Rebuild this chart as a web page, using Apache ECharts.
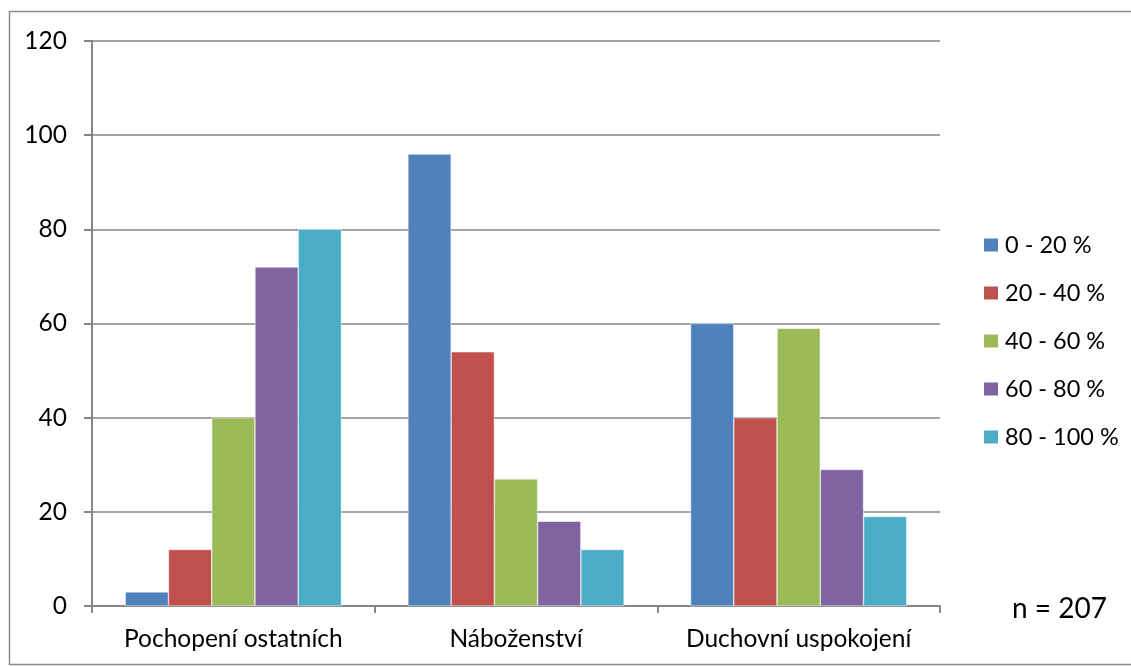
<!DOCTYPE html>
<html>
<head>
<meta charset="utf-8">
<script src="https://cdn.jsdelivr.net/npm/echarts@6/dist/echarts.min.js"></script>
<style>
  html, body { margin: 0; padding: 0; background: #fff; }
  #chart { width: 1131px; height: 666px; }
</style>
</head>
<body>
<div id="chart"></div>
<script>
// Categories along the x axis
const categories = ['Pochopení ostatních', 'Náboženství', 'Duchovní uspokojení'];

// One series per percentage band
const seriesNames = ['0 - 20 %', '20 - 40 %', '40 - 60 %', '60 - 80 %', '80 - 100 %'];
const band0_20   = [3, 96, 60];
const band20_40  = [12, 54, 40];
const band40_60  = [40, 27, 59];
const band60_80  = [72, 18, 29];
const band80_100 = [80, 12, 19];
const seriesValues = [band0_20, band20_40, band40_60, band60_80, band80_100];

const colors = ['#4F81BD', '#C0504D', '#9BBB59', '#8064A2', '#4BACC6'];

// Y axis scale
const yMin = 0;
const yMax = 120;
const yStep = 20;

const sampleNote = 'n = 207';

const FONT = 'Lato, "Liberation Sans", sans-serif';
const AXIS_GRAY = '#868686';

const chart = echarts.init(document.getElementById('chart'), null, { renderer: 'canvas' });

chart.setOption({
  animation: false,
  color: colors,
  textStyle: { fontFamily: FONT, color: '#000' },
  grid: { left: 92, right: 191, top: 41, bottom: 60, containLabel: false },
  legend: {
    orient: 'vertical',
    left: 982,
    top: 233,
    padding: 0,
    itemWidth: 16,
    itemHeight: 15,
    itemGap: 24,
    icon: 'rect',
    textStyle: { fontFamily: FONT, fontSize: 23.5, lineHeight: 24, color: '#000', padding: [0, 0, 0, 1] },
    data: seriesNames
  },
  xAxis: {
    type: 'category',
    data: categories,
    axisLine: { lineStyle: { color: AXIS_GRAY, width: 2 } },
    axisTick: { show: true, length: 7, lineStyle: { color: AXIS_GRAY, width: 2 } },
    axisLabel: { interval: 0, hideOverlap: false, fontFamily: FONT, fontSize: 24.5, color: '#000', margin: 21 }
  },
  yAxis: {
    type: 'value',
    min: yMin,
    max: yMax,
    interval: yStep,
    axisLine: { show: true, lineStyle: { color: AXIS_GRAY, width: 2 } },
    axisTick: { show: true, inside: false, length: 8, lineStyle: { color: AXIS_GRAY, width: 2 } },
    axisLabel: { fontFamily: FONT, fontSize: 24.5, color: '#000', margin: 25 },
    splitLine: { show: true, lineStyle: { color: AXIS_GRAY, width: 1.5 } }
  },
  graphic: [
    {
      type: 'rect',
      shape: { x: 9.5, y: 11.5, width: 1200, height: 653 },
      style: { fill: 'none', stroke: '#8c8c8c', lineWidth: 1.5 },
      silent: true,
      z: -1
    },
    {
      type: 'text',
      left: 1012,
      top: 595,
      style: { text: sampleNote, fontFamily: FONT, fontSize: 28, fill: '#000' }
    }
  ],
  series: seriesNames.map((name, i) => ({
    name: name,
    type: 'bar',
    data: seriesValues[i],
    barGap: '0%',
    barCategoryGap: '23.5%',
    itemStyle: { color: colors[i], borderColor: '#ffffff', borderWidth: 0.5 }
  }))
});
</script>
</body>
</html>
